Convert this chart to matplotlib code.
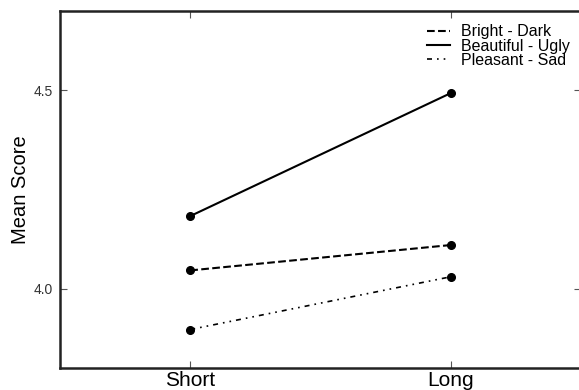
import matplotlib
matplotlib.use('Agg')
import matplotlib.pyplot as plt

plt.rcParams['font.family'] = ['Liberation Sans', 'DejaVu Sans']

# Data
conditions = ['Short', 'Long']
bright_dark = [4.046, 4.110]
beautiful_ugly = [4.183, 4.493]
pleasant_sad = [3.897, 4.030]

fig = plt.figure(figsize=(5.79, 3.90), dpi=100)
ax = fig.add_axes([60 / 579, 22 / 390, 521 / 579, 357 / 390])

x = range(len(conditions))
series = [
    (bright_dark, '--', 1.5, 'Bright - Dark'),
    (beautiful_ugly, '-', 1.5, 'Beautiful - Ugly'),
    (pleasant_sad, (0, (3, 3, 1, 3, 1, 3)), 1.2, 'Pleasant - Sad'),
]
for vals, ls, lw, lab in series:
    ax.plot(x, vals, color='black', linestyle=ls, linewidth=lw, label=lab)
    ax.plot(x, vals, 'o', color='black', markersize=5.5)

ax.set_xlim(-0.5, 1.5)
ax.set_ylim(3.8, 4.7)
ax.set_xticks(list(x))
ax.set_xticklabels(conditions, fontsize=15)
ax.set_yticks([4.0, 4.5])
ax.set_yticklabels(['4.0', '4.5'], fontsize=10, color='#333333')
ax.set_ylabel('Mean Score', fontsize=14.5, labelpad=3)

ax.tick_params(direction='in', length=5, width=0.8, top=True, right=True, color='#555555')
ax.tick_params(axis='x', pad=2)
ax.tick_params(axis='y', pad=5)
for s in ax.spines.values():
    s.set_linewidth(1.8)
    s.set_color('#222222')

ax.legend(loc='upper right', frameon=False, fontsize=11.5, handlelength=1.4,
          handletextpad=0.7, labelspacing=-0.05, borderaxespad=0.3,
          bbox_to_anchor=(1.0, 0.994))

fig.savefig('out.png', dpi=100)
